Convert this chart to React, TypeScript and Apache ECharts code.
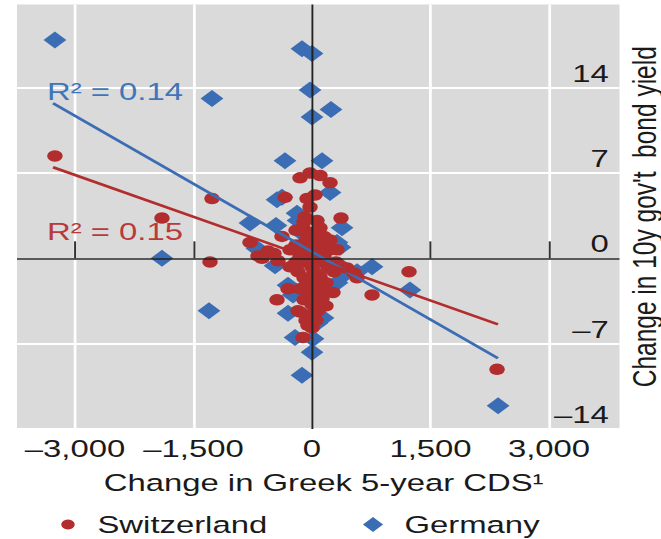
import React, { useEffect, useRef } from "react";
import * as echarts from "echarts";

const FONT = "'Liberation Sans', Arial, sans-serif";
const STRETCH = 1.3408; // the reference is stretched horizontally
const BASE_W = 493;
const BASE_H = 539;

const xTicks = [-3000, -1500, 0, 1500, 3000];
const yTicks = [-14, -7, 0, 7, 14];
const xRange = [-3734, 3892];
const yRange = [-14, 20.82];

const germany: number[][] = [
  [-3254, 17.9], [-1266, 13.1], [-127, 17.2], [0, 16.8], [-25, 13.8], [0, 11.6],
  [240, 12.2], [-342, 8.0], [127, 8.0], [228, 5.4], [-443, 4.8], [-380, 5.0],
  [-190, 3.7], [-785, 2.9], [-456, 2.7], [-177, 3.1], [380, 2.5], [316, 1.3],
  [354, 0.9], [-696, 0.8], [-1899, 0], [-468, -0.6], [760, -0.7], [392, -1.4],
  [570, -1.1], [1240, -2.6], [316, -2.0], [-240, -3.0], [-304, -2.2], [-1304, -4.3],
  [-304, -4.5], [139, -4.9], [63, -5.3], [-215, -6.5], [13, -6.6], [0, -7.7],
  [-127, -9.6], [2355, -12.1], [-89, 1.9], [101, 0.7], [-152, -0.3], [190, -2.2],
  [-25, -3.4], [392, -0.8],
];

const switzerland: number[][] = [
  [-3254, 8.4], [-1266, 4.9], [-1899, 3.3], [-1291, -0.3], [2342, -9.1], [1228, -1.1],
  [760, -3.0], [-152, 6.6], [-25, 7.0], [101, 6.8], [228, 6.2], [-342, 5.0],
  [-63, 4.9], [38, 5.2], [-25, 4.2], [367, 3.3], [-89, 3.4], [63, 3.1],
  [-114, 2.5], [-25, 2.1], [-380, 1.8], [190, 1.1], [-785, 1.3], [316, 0.7],
  [-684, 0.2], [-481, 0.4], [-430, -0.2], [-278, -0.7], [443, -0.8], [532, -1.2],
  [-304, -2.5], [-443, -3.4], [266, -2.8], [-177, -4.3], [13, -4.5], [0, -3.8],
  [0, -5.7], [-114, -6.5], [570, -1.6], [-633, 0.0], [-557, 0.6],
  [-152, 2.3], [-76, 1.5], [25, 1.6], [101, 2.5], [-51, 0.7], [51, 0.5],
  [152, 0.2], [-152, 0.2], [-76, -0.3], [0, -0.7], [101, -0.3], [203, -0.8],
  [-177, -1.1], [-101, -1.6], [0, -1.8], [101, -1.5], [177, -2.0], [-152, -2.5],
  [-51, -2.8], [51, -3.0], [127, -3.3], [-101, -3.4], [-203, 1.1], [76, 1.1],
  [152, 1.8], [228, 0.7], [304, -0.3], [367, -0.7], [-25, 0], [76, -2.2],
  [-76, -5.1], [51, -5.1],
  [-101, 3.0], [76, 2.3], [0, 1.1], [-127, 0.7], [127, 0.7], [-203, -0.3],
  [25, -1.1], [-76, -2.2], [101, -2.6], [0, -3.3], [177, -3.9], [-152, -4.4],
  [76, -4.3], [-51, -5.5], [228, 1.5], [278, -1.1], [-278, 0.7], [-203, 2.3],
];

const fitGermany: number[][] = [[-3278, 12.72], [2354, -8.2]];
const fitSwitzerland: number[][] = [[-3278, 7.47], [2354, -5.41]];

const r2Labels = ["R² = 0.14", "R² = 0.15"];

const BLUE = "#3b6db4";
const RED = "#b22d2d";
const TEXT = "#1a1a1a";

const fmtNum = (v: number) => {
  const s = Math.abs(v).toLocaleString("en-US");
  return v < 0 ? "\u2013" + s : s;
};

export default function App() {
  const ref = useRef<HTMLDivElement>(null);
  useEffect(() => {
    if (!ref.current) return;
    const chart = echarts.init(ref.current, undefined, { renderer: "svg" });
    const labelStyle = { fontSize: 24.5, color: TEXT, fontFamily: FONT };
    chart.setOption({
      animation: false,
      backgroundColor: "#ffffff",
      grid: {
        left: 12.68,
        right: 30.96,
        top: 4.5,
        bottom: 110,
        show: true,
        backgroundColor: "#dadada",
        borderWidth: 0,
        containLabel: false,
        outerBoundsMode: "none",
      },
      xAxis: {
        type: "value",
        min: xRange[0],
        max: xRange[1],
        position: "bottom",
        axisLine: { show: false },
        axisTick: {
          show: true,
          inside: true,
          length: 17,
          customValues: xTicks,
          lineStyle: { color: "#333", width: 1.5 },
        },
        axisLabel: { ...labelStyle, customValues: xTicks, margin: 7, formatter: fmtNum },
        splitLine: { show: true, lineStyle: { color: "#ffffff", width: 2 } },
        name: "Change in Greek 5-year CDS¹",
        nameLocation: "middle",
        nameGap: 41,
        nameTextStyle: { ...labelStyle, padding: [0, 0, 0, 8] },
      },
      yAxis: {
        type: "value",
        min: yRange[0],
        max: yRange[1],
        position: "right",
        axisLine: { show: false },
        axisTick: { show: false, customValues: yTicks },
        axisLabel: {
          ...labelStyle,
          customValues: yTicks,
          inside: true,
          margin: 8,
          verticalAlign: "bottom",
          lineHeight: 25,
          padding: [0, 0, 2, 0],
          formatter: fmtNum,
        },
        splitLine: { show: true, lineStyle: { color: "#ffffff", width: 2 } },
        name: "Change in 10y gov't  bond yield",
        nameLocation: "middle",
        nameRotate: 90,
        nameGap: 6,
        nameTextStyle: labelStyle,
      },
      legend: [
        {
          data: ["Switzerland"],
          left: 45.7,
          top: 512,
          padding: 0,
          itemWidth: 10,
          itemHeight: 10,
          selectedMode: false,
          textStyle: { ...labelStyle, padding: [0, 0, 0, 12] },
        },
        {
          data: ["Germany"],
          left: 270.7,
          top: 512,
          padding: 0,
          itemWidth: 15,
          itemHeight: 15,
          selectedMode: false,
          textStyle: { ...labelStyle, padding: [0, 0, 0, 11] },
        },
      ],
      graphic: [
        {
          type: "text",
          x: 35,
          y: 92,
          style: { text: r2Labels[0], fontSize: 24.5, fontFamily: FONT, fill: "#4075ba", verticalAlign: "middle" },
          z: 100,
        },
        {
          type: "text",
          x: 35,
          y: 232,
          style: { text: r2Labels[1], fontSize: 24.5, fontFamily: FONT, fill: "#b83a3a", verticalAlign: "middle" },
          z: 100,
        },
      ],
      series: [
        {
          name: "zero",
          type: "line",
          data: [],
          z: 1,
          silent: true,
          markLine: {
            silent: true,
            symbol: ["none", "none"],
            label: { show: false },
            lineStyle: { color: "#222", width: 1.5, type: "solid" },
            data: [{ xAxis: 0 }, { yAxis: 0 }],
          },
        },
        {
          name: "Germany",
          type: "scatter",
          symbol: "diamond",
          symbolSize: 17,
          itemStyle: { color: BLUE, opacity: 1 },
          data: germany,
          z: 2,
        },
        {
          name: "Switzerland",
          type: "scatter",
          symbol: "circle",
          symbolSize: 11.5,
          itemStyle: { color: RED, opacity: 1 },
          data: switzerland,
          z: 3,
        },
        {
          name: "Germany fit",
          type: "line",
          data: fitGermany,
          showSymbol: false,
          lineStyle: { color: BLUE, width: 2.5 },
          z: 4,
        },
        {
          name: "Switzerland fit",
          type: "line",
          data: fitSwitzerland,
          showSymbol: false,
          lineStyle: { color: RED, width: 2.5 },
          z: 4,
        },
      ],
    });
    return () => chart.dispose();
  }, []);
  return (
    <div
      style={{
        position: "absolute",
        left: 0,
        top: 0,
        width: 661,
        height: BASE_H,
        overflow: "hidden",
        background: "#fff",
      }}
    >
      <div
        ref={ref}
        style={{
          width: BASE_W,
          height: BASE_H,
          transform: `scaleX(${STRETCH})`,
          transformOrigin: "0 0",
        }}
      />
    </div>
  );
}
